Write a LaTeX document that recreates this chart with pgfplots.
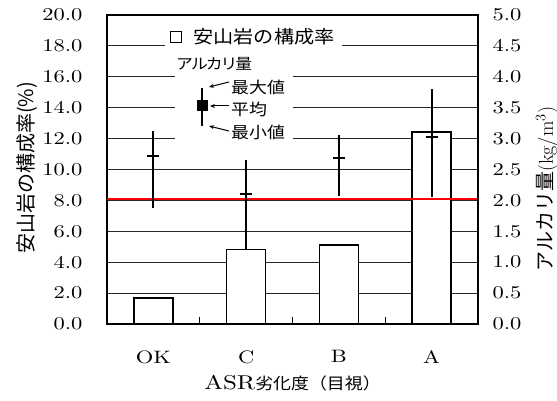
\documentclass[border=0pt]{standalone}
\usepackage{fontspec}
\usepackage{pgfplots}
\usepackage{pgfplotstable}
\pgfplotsset{compat=1.18}
\usetikzlibrary{arrows.meta}
\newfontfamily\jp{Noto Sans CJK JP}
\newfontfamily\jpw{Noto Sans CJK JP}[FakeStretch=1.12, Kerning=Off]
\newfontfamily\rmw{lmroman10-regular.otf}[FakeStretch=1.25]
% full-width cell for one character
\newcommand\fw[1]{\makebox[14.8pt]{#1}}

% share of andesite per deterioration grade (%)
\pgfplotstableread{
x share
0 1.70
1 4.83
2 5.11
3 12.41
}\sharetable

% alkali content (kg/m^3): mean, max, min per grade
\pgfplotstableread{
x mean max min
0 2.72 3.13 1.87
1 2.11 2.66 1.21
2 2.68 3.06 2.07
3 3.03 3.80 2.06
}\alkalitable

\pgfplotsset{
  common/.style={
    scale only axis, width=371pt, height=309pt,
    xmin=-0.5, xmax=3.5,
    /pgf/number format/assume math mode=true,
    tick label style={font=\rmw\fontsize{18}{20}\selectfont},
    label style={font=\jp\fontsize{20}{22}\selectfont},
    axis line style={line width=1.6pt},
    yticklabel style={/pgf/number format/fixed,
      /pgf/number format/fixed zerofill, /pgf/number format/precision=1},
  }
}

\begin{document}
\begin{tikzpicture}
\begin{axis}[common,
  name=main,
  ymin=0, ymax=20, ytick={0,2,...,20},
  ytick pos=left, ytick style={draw=none},
  ymajorgrids, grid style={black!85, line width=0.8pt},
  yticklabel style={xshift=-21pt},
  xtick={0,1,2,3}, xticklabels={OK,C,B,A},
  xtick pos=bottom, major x tick style={draw=none},
  minor xtick={0.5,1.5,2.5}, minor tick length=7pt,
  minor x tick style={line width=1pt, black},
  xticklabel style={yshift=-23pt},
  ylabel={安山岩の構成率(\%)},
  ylabel style={at={(axis description cs:-0.215,0.505)}, anchor=center},
  xlabel={{\rmw ASR}{\jpw\fontsize{16}{18}\selectfont 劣化度（目視）}},
  xlabel style={at={(axis description cs:0.5,-0.191)}, anchor=center},
  legend style={at={(axis description cs:0.156,0.967)}, anchor=north west,
    draw=none, fill=white, font=\jpw\fontsize{18}{20}\selectfont,
    inner xsep=5pt, inner ysep=1pt},
  legend image code/.code={\draw[line width=1.4pt, fill=white] (0pt,-5.5pt) rectangle (11pt,5.5pt);},
]
\addplot[ybar, bar width=39pt, fill=white, draw=black, line width=1.6pt]
  table[x=x, y=share] {\sharetable};
\addlegendentry{\hspace{9pt}安山岩の構成率}
\addplot[red, line width=1.6pt, forget plot] coordinates {(-0.5,8.1) (3.5,8.1)};
\end{axis}

\begin{axis}[common,
  ymin=0, ymax=5, ytick={0,0.5,...,5},
  axis y line*=right, axis x line=none,
  ytick style={draw=none},
  yticklabel style={xshift=11pt},
  ylabel={アルカリ量{\rmfamily(kg/m$^{3}$)}},
  ylabel style={at={(axis description cs:1.186,0.437)}, anchor=center, rotate=0},
]
\addplot[only marks, mark=-, mark size=6pt, mark options={line width=2pt, black},
  error bars/.cd, y dir=both, y explicit, error mark=none,
  error bar style={line width=2pt, black}]
  table[x=x, y=mean, y error plus expr=\thisrow{max}-\thisrow{mean},
        y error minus expr=\thisrow{mean}-\thisrow{min}] {\alkalitable};
\end{axis}

% key for the alkali range markers
\begin{scope}[shift={(main.south west)}, xshift=-107pt, yshift=324pt, x=1pt, y=-1pt]
  \fill[white] (175,52) rectangle (293,146);
  \node[font=\jpw\fontsize{15}{17}\selectfont, anchor=west, inner sep=0pt] at (177,64)
    {\fw{ア}\fw{ル}\fw{カ}\fw{リ}\fw{量}};
  \draw[line width=1.5pt] (202,88) -- (202,126);
  \fill[black] (196.5,100.5) rectangle (207.5,111.5);
  \draw[line width=1pt, -{Stealth[length=5pt,width=4pt]}] (229,82) -- (209,87);
  \draw[line width=1pt, -{Stealth[length=5pt,width=4pt]}] (229,106) -- (210,106);
  \draw[line width=1pt, -{Stealth[length=5pt,width=4pt]}] (229,131) -- (209,126);
  \node[font=\jpw\fontsize{16}{18}\selectfont, anchor=west, inner sep=0pt] at (231,87) {最大値};
  \node[font=\jpw\fontsize{16}{18}\selectfont, anchor=west, inner sep=0pt] at (231,109) {平均};
  \node[font=\jpw\fontsize{16}{18}\selectfont, anchor=west, inner sep=0pt] at (231,132) {最小値};
\end{scope}

\pgfresetboundingbox
\path[use as bounding box] ([xshift=-107pt,yshift=-77pt]main.south west)
  rectangle ([xshift=79pt,yshift=15pt]main.north east);
\end{tikzpicture}
\end{document}
